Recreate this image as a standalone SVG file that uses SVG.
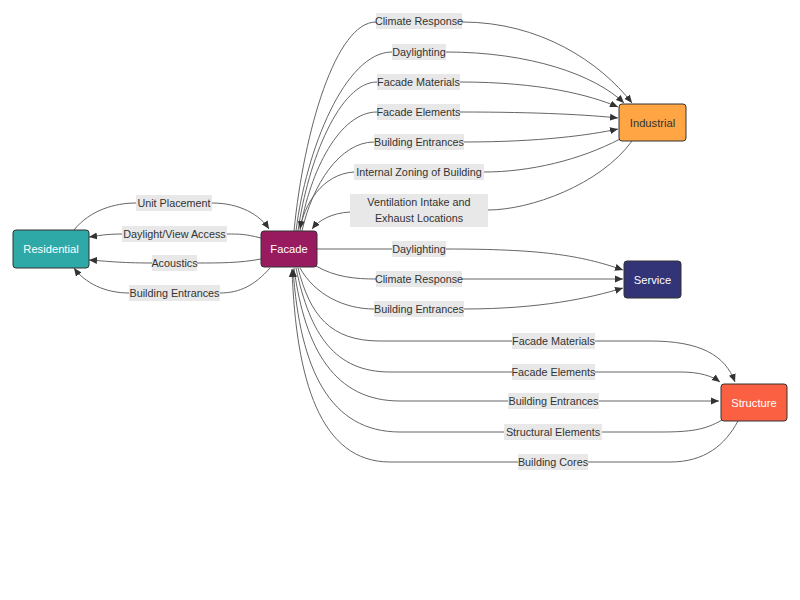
<svg xmlns="http://www.w3.org/2000/svg" width="800" height="600" viewBox="0 0 800 600">
  <style>
    .edge { fill: none; stroke: #666; stroke-width: 1; }
    .lbl rect { fill: #e8e8e8; }
    .lbl text, .node text { font-family: "Liberation Sans", Arial, sans-serif; text-anchor: middle; dominant-baseline: central; }
    .lbl text { font-size: 10.8px; fill: #333; }
    .node rect { stroke: #333; stroke-width: 1; }
    .node text { font-size: 11.2px; fill: #fff; }
  </style>
  <defs>
    <marker id="arrow" markerUnits="userSpaceOnUse" markerWidth="8" markerHeight="8" refX="8" refY="4" orient="auto">
      <path d="M0,0.5 L8,4 L0,7.5 z" fill="#333"/>
    </marker>
  </defs>
  <rect width="800" height="600" fill="#fff"/>

  <g id="connectors">
    <!-- Facade -> Industrial -->
    <path class="edge" marker-end="url(#arrow)" d="M294,231 C304,130 336,22 376,22 L462,22 C540,22 600,62 632,103"/>
    <path class="edge" marker-end="url(#arrow)" d="M296,231 C306,150 345,52 392,52 L446,52 C530,52 595,75 624,103"/>
    <path class="edge" marker-end="url(#arrow)" d="M298,231 C308,160 340,82 377,82 L460,82 C540,82 590,95 618,107"/>
    <path class="edge" marker-end="url(#arrow)" d="M300,231 C310,170 340,112 377,112 L460,112 C540,112 590,115 618,118"/>
    <path class="edge" marker-end="url(#arrow)" d="M302,231 C312,185 340,142 374,142 L464,142 C540,142 590,135 618,129"/>
    <!-- Industrial -> Facade -->
    <path class="edge" marker-end="url(#arrow)" d="M620,139 C580,160 530,172 484,172 L354,172 C322,174 304,205 300,229"/>
    <path class="edge" marker-end="url(#arrow)" d="M632,141 C600,185 530,210 488,210 L350,212 C332,213 319,220 312,229"/>
    <!-- Facade -> Service -->
    <path class="edge" marker-end="url(#arrow)" d="M317,249 L446,249 C540,249 580,255 623,270"/>
    <path class="edge" marker-end="url(#arrow)" d="M316,266 C335,277 355,279 376,279 L623,279"/>
    <path class="edge" marker-end="url(#arrow)" d="M300,268 C315,295 345,309 374,309 L464,309 C540,309 590,298 623,288"/>
    <!-- Facade -> Structure -->
    <path class="edge" marker-end="url(#arrow)" d="M298,268 C310,315 330,341 380,341 L650,341 C700,341 725,355 735,382"/>
    <path class="edge" marker-end="url(#arrow)" d="M296,268 C310,335 335,372 390,372 L680,372 C700,372 712,376 720,382"/>
    <path class="edge" marker-end="url(#arrow)" d="M294,268 C305,350 335,401 400,401 L719,401"/>
    <!-- Structure -> Facade -->
    <path class="edge" marker-end="url(#arrow)" d="M722,420 C705,430 690,432 660,432 L400,432 C330,432 300,370 293,269"/>
    <path class="edge" marker-end="url(#arrow)" d="M738,421 C725,445 705,462 670,462 L390,462 C320,462 296,380 292,269"/>
    <!-- Residential <-> Facade -->
    <path class="edge" marker-end="url(#arrow)" d="M74,230 C90,210 115,203 136,203 L212,203 C240,203 260,215 269,229"/>
    <path class="edge" marker-end="url(#arrow)" d="M261,238 C245,234 240,234 227,234 L122,234 C105,234 97,236 89,237"/>
    <path class="edge" marker-end="url(#arrow)" d="M261,259 C240,263 220,263 197,263 L152,263 C120,263 105,261 89,260"/>
    <path class="edge" marker-end="url(#arrow)" d="M270,268 C255,285 240,293 220,293 L129,293 C105,293 85,283 74,268"/>
  </g>

  <g id="edge-labels">
    <g class="lbl"><rect x="376" y="13" width="86" height="16"/><text x="419" y="21">Climate Response</text></g>
    <g class="lbl"><rect x="392" y="44" width="54" height="16"/><text x="419" y="52">Daylighting</text></g>
    <g class="lbl"><rect x="377" y="74" width="83" height="16"/><text x="418.5" y="82">Facade Materials</text></g>
    <g class="lbl"><rect x="377" y="104" width="83" height="16"/><text x="418.5" y="112">Facade Elements</text></g>
    <g class="lbl"><rect x="374" y="134" width="90" height="16"/><text x="419" y="142">Building Entrances</text></g>
    <g class="lbl"><rect x="354" y="164" width="130" height="16"/><text x="419" y="172">Internal Zoning of Building</text></g>
    <g class="lbl"><rect x="350" y="194" width="138" height="33"/><text x="419" y="202">Ventilation Intake and</text><text x="419" y="218">Exhaust Locations</text></g>
    <g class="lbl"><rect x="392" y="241" width="54" height="16"/><text x="419" y="249">Daylighting</text></g>
    <g class="lbl"><rect x="376" y="271" width="86" height="16"/><text x="419" y="279">Climate Response</text></g>
    <g class="lbl"><rect x="374" y="301" width="90" height="16"/><text x="419" y="309">Building Entrances</text></g>
    <g class="lbl"><rect x="512" y="333" width="83" height="16"/><text x="553.5" y="341">Facade Materials</text></g>
    <g class="lbl"><rect x="512" y="364" width="83" height="16"/><text x="553.5" y="372">Facade Elements</text></g>
    <g class="lbl"><rect x="508" y="393" width="91" height="16"/><text x="553.5" y="401">Building Entrances</text></g>
    <g class="lbl"><rect x="504" y="424" width="98" height="16"/><text x="553" y="432">Structural Elements</text></g>
    <g class="lbl"><rect x="518" y="454" width="70" height="16"/><text x="553" y="462">Building Cores</text></g>
    <g class="lbl"><rect x="136" y="195" width="76" height="16"/><text x="174" y="203">Unit Placement</text></g>
    <g class="lbl"><rect x="122" y="226" width="105" height="16"/><text x="174.5" y="234">Daylight/View Access</text></g>
    <g class="lbl"><rect x="152" y="255" width="45" height="16"/><text x="174.5" y="263">Acoustics</text></g>
    <g class="lbl"><rect x="129" y="285" width="91" height="16"/><text x="174.5" y="293">Building Entrances</text></g>
  </g>

  <g id="residential" class="node"><rect x="13" y="230" width="76" height="38" rx="3" fill="#2fa8a8"/><text x="51" y="249">Residential</text></g>
  <g id="facade" class="node"><rect x="261" y="231" width="56" height="36" rx="3" fill="#991b5f"/><text x="289" y="249">Facade</text></g>
  <g id="industrial" class="node"><rect x="619" y="104" width="67" height="37" rx="3" fill="#ffa544"/><text x="652.5" y="122.5" style="fill:#333">Industrial</text></g>
  <g id="service" class="node"><rect x="624" y="261" width="57" height="37" rx="3" fill="#333377"/><text x="652.5" y="279.5">Service</text></g>
  <g id="structure" class="node"><rect x="721" y="384" width="66" height="37" rx="3" fill="#fc6043"/><text x="754" y="402.5">Structure</text></g>
</svg>
